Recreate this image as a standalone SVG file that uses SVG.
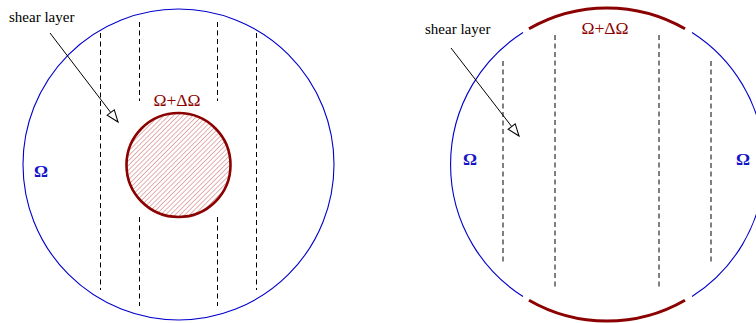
<svg xmlns="http://www.w3.org/2000/svg" width="756" height="323" viewBox="0 0 756 323">
<style>
.lbl{font-family:"Liberation Serif","Times New Roman",serif;font-size:15px;fill:#000}
.om{font-family:"Liberation Serif","Times New Roman",serif;font-size:17.5px;font-weight:bold;fill:#1414c8}
.dom{font-family:"Liberation Serif","Times New Roman",serif;font-size:17.5px;fill:#8b0000}
.blue{fill:none;stroke:#0000cc;stroke-width:1.1}
.red{fill:none;stroke:#8b0000;stroke-width:3}
.dk{stroke:#000;stroke-width:1;stroke-dasharray:5,3.5}
.dg{stroke:#555;stroke-width:1.5;stroke-dasharray:5,3.5}
.arr{stroke:#000;stroke-width:1;fill:none;marker-end:url(#head)}
</style>
<defs>
<pattern id="hatch" patternUnits="userSpaceOnUse" width="3.4" height="3.4" patternTransform="rotate(45)">
<line x1="0" y1="0" x2="0" y2="3.4" stroke="#d07a7a" stroke-width="1.2"/>
</pattern>
<marker id="head" markerUnits="userSpaceOnUse" markerWidth="16" markerHeight="12" viewBox="-13 -6 16 12" refX="0" refY="0" orient="auto">
<path d="M0,0 L-12,-4.5 L-12,4.5 Z" fill="#fff" stroke="#000" stroke-width="1"/>
</marker>
</defs>

<g id="left-domain">
<circle class="blue" cx="178.5" cy="164.5" r="155.5"/>
<text class="om" x="34" y="177">Ω</text>
</g>
<g id="left-lines">
<line class="dk" x1="100.5" y1="33" x2="100.5" y2="290"/>
<line class="dk" x1="256.5" y1="33" x2="256.5" y2="290"/>
<line class="dk" x1="139.5" y1="22" x2="139.5" y2="101"/>
<line class="dk" x1="139.5" y1="217" x2="139.5" y2="306"/>
<line class="dk" x1="217.5" y1="22" x2="217.5" y2="101"/>
<line class="dk" x1="217.5" y1="217" x2="217.5" y2="306"/>
</g>
<g id="left-inclusion">
<circle cx="178.5" cy="165" r="52" fill="url(#hatch)" stroke="#8b0000" stroke-width="2.6"/>
<text class="dom" x="177" y="106" text-anchor="middle">Ω+ΔΩ</text>
</g>
<g id="left-shear">
<text class="lbl" x="9" y="22">shear layer</text>
</g>

<g id="right-domain">
<path class="blue" d="M523,32.5 A156.5,156.5 0 0 0 523,296.5"/>
<path class="blue" d="M692,32.5 A156.5,156.5 0 0 1 692,296.5"/>
<text class="om" x="463" y="165">Ω</text>
<text class="om" x="736" y="165">Ω</text>
</g>
<g id="right-boundary">
<path class="red" d="M529,28.8 A156.5,156.5 0 0 1 685,28.8"/>
<path class="red" d="M529,300.2 A156.5,156.5 0 0 0 685,300.2"/>
<text class="dom" x="605" y="34" text-anchor="middle">Ω+ΔΩ</text>
</g>
<g id="right-lines">
<line class="dg" x1="503" y1="61" x2="503" y2="264"/>
<line class="dg" x1="555" y1="35" x2="555" y2="290"/>
<line class="dg" x1="659" y1="35" x2="659" y2="290"/>
<line class="dg" x1="711" y1="61" x2="711" y2="264"/>
</g>
<g id="right-shear">
<text class="lbl" x="425" y="34">shear layer</text>
</g>

<g id="connectors">
<line class="arr" x1="50" y1="33" x2="118" y2="122"/>
<line class="arr" x1="451" y1="48" x2="519" y2="136"/>
</g>
</svg>
